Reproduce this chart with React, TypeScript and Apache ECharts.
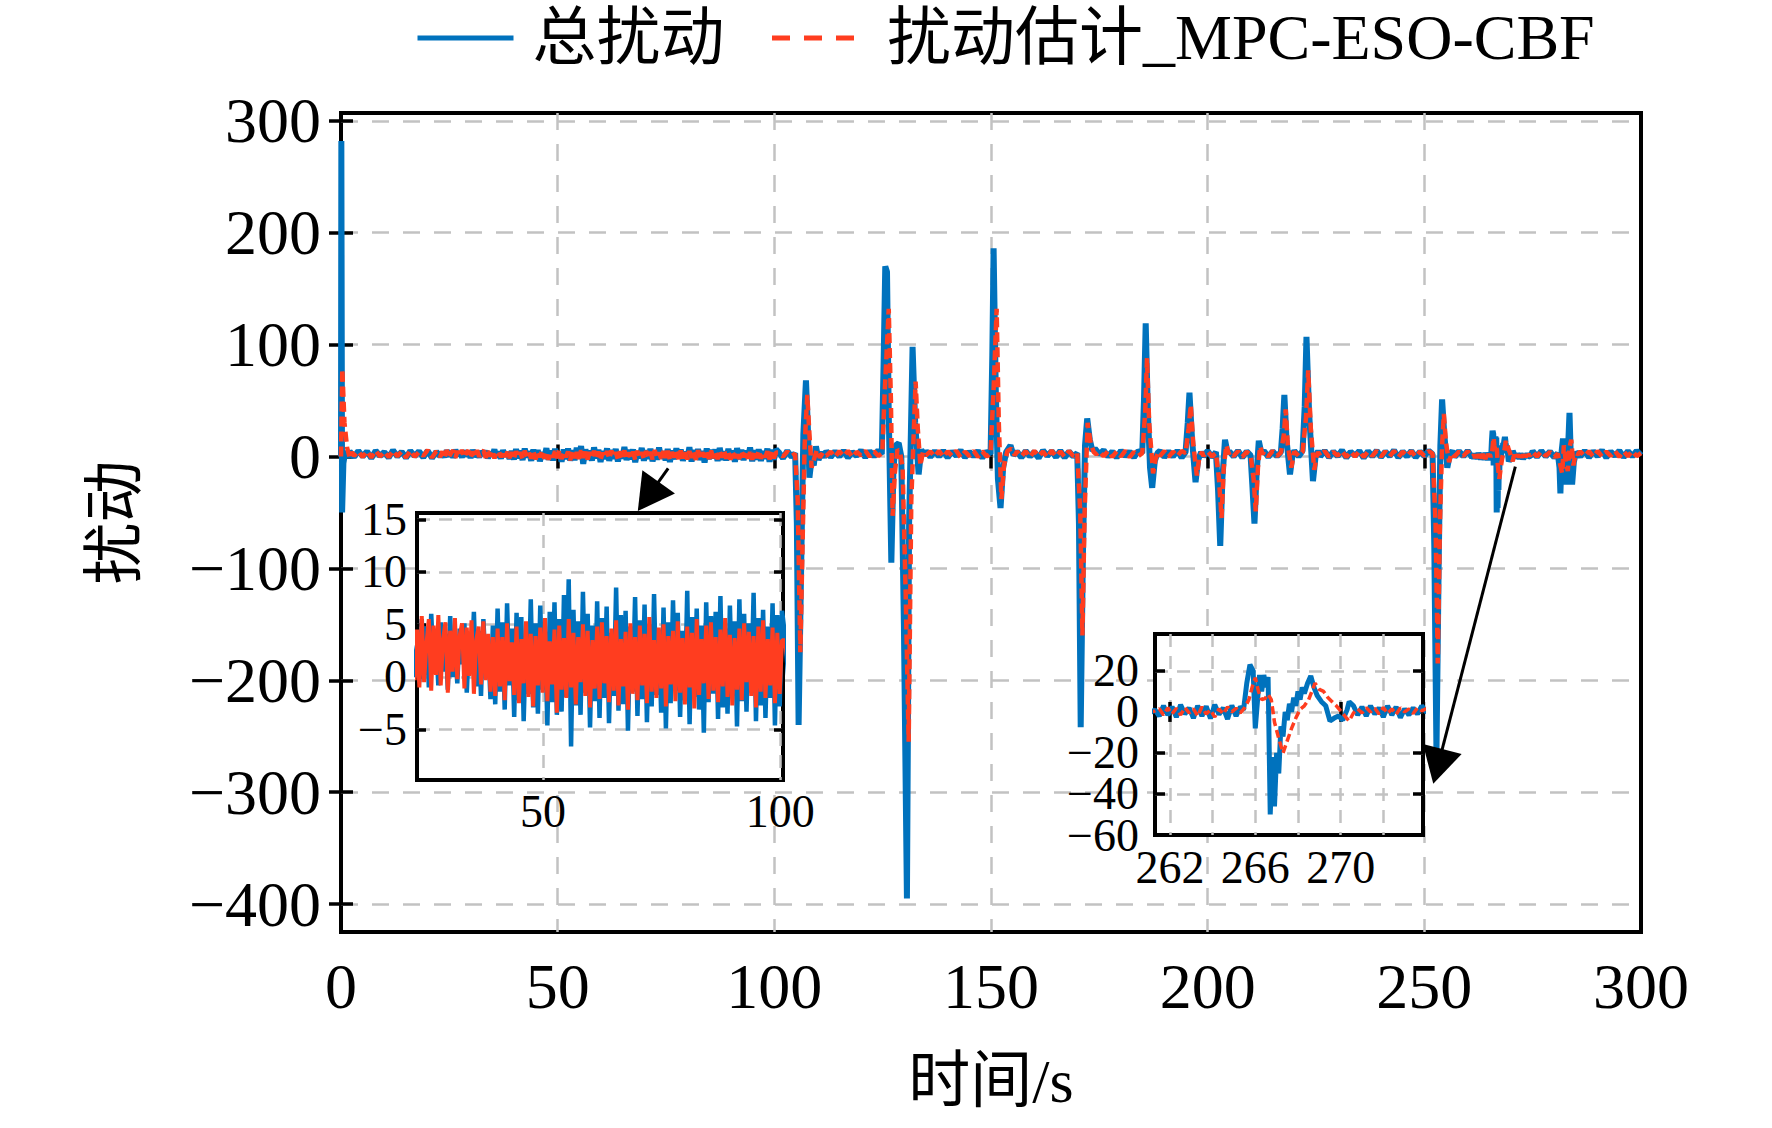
import React, { useEffect, useRef } from 'react';
import * as echarts from 'echarts';

const FONT = "'Liberation Serif', 'Times New Roman', 'Noto Sans CJK SC', serif";
const BLUE = '#0072BD';
const RED = '#FF3D1F';
const GRID_GREY = '#c2c2c2';

const seriesNames = ['总扰动', '扰动估计_MPC-ESO-CBF'];

// tick labels
const xTicks = [0, 50, 100, 150, 200, 250, 300];
const yTicks = [-400, -300, -200, -100, 0, 100, 200, 300];
const inset1XTicks = [50, 100];
const inset1YTicks = [-5, 0, 5, 10, 15];
const inset2XTicks = [262, 266, 270];
const inset2XGrid = [262, 264, 266, 268, 270, 272];
const inset2YTicks = [-60, -40, -20, 0, 20];

// 23.4 s .. 100.4 s, one sample every 0.5 s (zoomed in the first inset)
const noiseStart = 23.4;
const noiseStep = 0.5;
const noiseTotal = [
  3, -0.5, 5.5, 0.2, 4.8, -1, 6, 1, 3.5, -0.8, 5.2, 0.5, 4.1, -1.2, 5.8, 0, 2.9, -0.6, 4.6, 1.2,
  5.1, -1.5, 3.8, 0.4, 6.2, -0.9, 4.4, -1.8, 5.5, 0.8, 3.2, -2.1, 4.9,
  -2.6, 6.5, -1.4, 5.2, -3.1, 7, -0.8, 4.6, -3.8, 6.1,
  -2.2, 5.7, -4.2, 3.9, -1.6, 7.4, -2.9, 5.1, -3.5, 6.8,
  -1.2, 4.3, -4.6, 6.2, -2.4, 7.1, -3.6, 5.5, -3.3, 7.8,
  -1.9, 9.3, -6.6, 6.4, -2.7, 5.3, -3.6, 8.1, -1.5, 6,
  -4.8, 4.9, -2.3, 7.2, -3.9, 5.6, -2, 6.7, -4.4, 4.2,
  -1.8, 8.5, -3.2, 5.9, -2.6, 6.3, -5.1, 4.8, -1.4, 7.6,
  -3.7, 5.4, -2.1, 6.9, -4.3, 5, -2.8, 7.9, -1.7, 4.5,
  -3.4, 6.6, -4.9, 5.2, -2.5, 7.3, -1.3, 6.1, -3.8, 4.4,
  -2.2, 8.2, -4.5, 5.7, -1.9, 6.5, -3.1, 4.9, -5.3, 7.1,
  -2.4, 5.8, -1.6, 6.2, -4, 7.7, -2.9, 4.6, -3.5, 6.8,
  -1.8, 5.3, -4.7, 7.4, -2.3, 6, -3.3, 5.1, -1.5, 8,
  -4.2, 5.6, -2.7, 6.4, -3.9, 4.8, -2, 7, -4.6, 5.9,
  -2.8, 6.3,
];
const noiseEst = [
  4.5, -1, 5.8, -0.5, 3.2, 5.5, -1.3, 4.9, 0.2, 5.9, -0.8, 3.6, 5.2, -1.5, 4.4, 0.5, 5.6, -0.2, 3.9, 5.1,
  -1.1, 4.7, 0.1, 5.4, -1.6, 3.5, 4.8, -0.7, 5.3, -0.3, 4.1, -1.4, 3.8,
  -1.8, 4.6, -0.9, 3.8, -2.2, 5.1, -0.4, 3.3, -1.7, 4.8,
  -2.5, 3.6, -0.6, 5.3, -1.9, 4.1, -2.8, 3.9, -0.8, 4.7,
  -1.5, 5.6, -2.3, 3.4, -0.7, 4.5, -3.4, 4.9, -1.2, 3.7,
  -2, 5.5, -1, 4.2, -2.6, 3.8, -0.5, 5, -1.8, 4.4,
  -2.9, 3.5, -1.1, 4.8, -2.1, 5.2, -0.6, 3.9, -2.4, 4.6,
  -1.3, 5.4, -2.7, 3.6, -0.9, 4.3, -3.1, 5.1, -1.6, 3.8,
  -2.2, 4.9, -0.8, 4.1, -2.5, 5.7, -1.4, 3.5, -2, 4.7,
  -1.1, 5, -2.8, 3.9, -0.7, 4.4, -2.3, 5.3, -1.5, 3.7,
  -2.6, 4.8, -1, 4.2, -3, 5.5, -1.7, 3.6, -0.6, 4.9,
  -2.1, 5.2, -1.3, 3.8, -2.4, 4.5, -0.9, 5.6, -1.9, 4,
  -2.7, 3.7, -1.2, 4.6, -2.2, 5.1, -0.5, 4.3, -1.8, 3.9,
  -2.9, 4.8, -1.4, 5.4, -2, 3.6, -0.8, 4.7, -2.5, 4.2,
  -1.6, 3.5,
];

// [time s, value]
const totalHead = [
  [0, 0], [0.08, 282], [0.25, -50], [0.55, -6], [1, 5], [1.5, -1], [2, 4.5], [3, -0.5], [4, 5], [5, 0],
  [6, 4.5], [7, -1.5], [8, 5.2], [9, 0.4], [10, 4], [11, -1], [12, 5.5], [13, 0], [14, 4.2], [15, -1.2],
  [16, 5], [17, 0.3], [18, 4.6], [19, -0.8], [20, 5.2], [21, -1.4], [22, 4.4], [22.9, 0],
];
const estHead = [
  [0, 0], [0.3, 78], [0.8, 30], [1.4, 8], [2, -1], [2.5, 4], [3, 0.5], [4, 4.6], [5, -0.5], [6, 4.8],
  [7, -1], [8, 5.3], [9, 0], [10, 4.4], [11, -0.6], [12, 5.1], [13, 0.2], [14, 4.5], [15, -1], [16, 5.4],
  [17, -0.2], [18, 4.1], [19, 0.6], [20, 5.6], [21, -0.9], [22, 4.7], [22.9, -0.3],
];

const totalMid = [
  [101, 4], [102, -1.5], [103, 5], [104, -0.5], [104.8, 3],
  [105.2, -60], [105.6, -240], [106.1, -120], [106.7, 20], [107.3, 68], [107.7, 30], [108.1, -19], [108.6, -2],
  [109.1, -8], [109.6, 9], [110.2, -3], [110.9, 4], [111.5, -1],
  [112, 5], [113, -0.5], [114, 4.5], [115, 0], [116, 5.2], [117, -1], [118, 4], [119, 0.5], [120, 5.5],
  [121, -0.8], [122, 4.8], [123, 0], [124, 5.5], [124.8, 2],
  [125.2, 80], [125.6, 170], [126, 165], [126.4, 40], [127, -95], [127.5, -10], [128, 10], [128.7, 12],
  [129.3, 0], [129.9, -150], [130.6, -395], [131.1, -60], [131.9, 98], [132.5, 30], [133.3, -16], [133.9, 6], [134.6, 1],
  [135, 5], [136, -0.5], [137, 4.8], [138, 0], [139, 5.2], [140, -1], [141, 4.4], [142, 0.6], [143, 5.5],
  [144, -0.8], [145, 4.2], [146, 0.2], [147, 5], [148, -1.2], [149, 4.6], [149.9, 2],
  [150.3, 90], [150.6, 186], [151.1, 60], [151.6, -20], [152.2, -46], [152.8, -10], [153.5, 4], [154.5, 10], [155.2, 1],
  [156, 4.5], [157, -1], [158, 5], [159, 0], [160, 4.2], [161, -1.5], [162, 5.5], [163, 0.4], [164, 4.8],
  [165, -0.6], [166, 5.2], [167, -1], [168, 4.4], [169, 0], [169.9, 3],
  [170.3, -60], [170.7, -242], [171.2, -90], [171.7, 10], [172.2, 34], [172.8, 15], [173.4, 5], [174, 7],
  [175, 2], [176, 5.5], [177, 0], [178, 4.6], [179, -1], [180, 5.2], [181, 0.3], [182, 4.4], [183, -0.8], [184, 5], [184.9, 3],
  [185.3, 50], [185.7, 119], [186.2, 40], [186.7, -10], [187.2, -28], [187.8, -4], [188.4, 3],
  [189, 5], [190, -0.5], [191, 4.5], [192, 0], [193, 5.2], [194, -1], [194.9, 4],
  [195.4, 30], [195.8, 57], [196.4, 15], [197.2, -23], [197.8, -3], [198.5, 4],
  [199, 0], [200, 5], [201, -0.5], [201.9, 4],
  [202.4, -30], [202.9, -80], [203.4, -20], [204, 15], [204.6, 3],
  [205, 4.5], [206, 0], [207, 5.2], [208, -1], [209, 4.6], [209.9, 1],
  [210.3, -25], [210.8, -60], [211.3, -15], [211.8, 14], [212.4, 3],
  [213, 5], [214, -0.5], [215, 4.6], [216, 0.2], [216.9, 4],
  [217.3, 25], [217.7, 55], [218.2, 15], [219, -16], [219.6, 2],
  [220, 5], [221, 0], [221.9, 5],
  [222.4, 45], [222.8, 107], [223.4, 40], [224.3, -22], [224.9, 0],
  [225.5, 5], [226, 0], [227, 5.2], [228, -0.8], [229, 4.5], [230, 0.2], [231, 5.5], [232, -1], [233, 4.2],
  [234, 0.5], [235, 5], [236, -1.2], [237, 4.8], [238, 0], [239, 5.3], [240, -0.6], [241, 4.4], [242, 0.3],
  [243, 5.6], [244, -1], [245, 4.6], [246, 0], [247, 5.1], [248, -0.8], [249, 4.3], [250, 0.4], [251, 5.2], [251.9, 2],
  [252.3, -80], [252.8, -264], [253.3, -100], [253.7, 10], [254.1, 51], [254.6, 20], [255.3, -10], [255.9, 2],
  [256.5, 5], [257, -0.5], [258, 4.8], [259, 0], [260, 5.2], [261, -0.8],
];
const estMid = [
  [101, 3.5], [102, 0], [103, 4.5], [104, 0.5], [104.8, 2.5],
  [105.4, -40], [106, -175], [106.5, -80], [107, 10], [107.6, 55], [108.1, 20], [108.6, -10], [109.2, -2],
  [109.8, 6], [110.5, -1], [111.2, 3.5],
  [112, 0.5], [113, 4.4], [114, -0.5], [115, 4.8], [116, 0.3], [117, 5], [118, -0.6], [119, 4.2], [120, 0.8],
  [121, 5.1], [122, -0.2], [123, 4.6], [124, 0.5], [124.9, 3],
  [125.5, 60], [126.4, 132], [126.9, 50], [127.3, -53], [127.8, -15], [128.4, 6], [129, 4], [129.6, -10],
  [130.3, -120], [131, -255], [131.6, -40], [132.6, 67], [133.1, 25], [133.7, -8], [134.3, 4],
  [135, 1], [136, 4.5], [137, 0], [138, 5], [139, -0.4], [140, 4.6], [141, 0.5], [142, 5.2], [143, -0.8],
  [144, 4.3], [145, 0.4], [146, 5], [147, -0.5], [148, 4.7], [149, 0], [149.9, 3],
  [150.6, 60], [151.3, 132], [151.8, 30], [152.4, -38], [153, -8], [153.8, 5], [154.7, 7], [155.5, 1],
  [156, 4.6], [157, 0], [158, 4.9], [159, -0.6], [160, 5.1], [161, 0.2], [162, 4.4], [163, -0.8], [164, 5.3],
  [165, 0], [166, 4.5], [167, -0.4], [168, 4.9], [169, 0.3], [169.9, 3],
  [170.6, -50], [171.1, -160], [171.6, -50], [172.3, 30], [173, 12], [173.7, 4], [174.3, 2],
  [175, 4.5], [176, 0.2], [177, 5], [178, -0.4], [179, 4.6], [180, 0], [181, 5.2], [182, -0.6], [183, 4.2], [184, 0.4], [184.9, 3],
  [185.6, 40], [186, 88], [186.5, 30], [187.4, -15], [188, -2], [188.6, 4],
  [189, 0.5], [190, 4.8], [191, -0.4], [192, 4.4], [193, 0.2], [194, 5], [194.9, 3],
  [195.6, 25], [196.1, 46], [196.7, 10], [197.5, -17], [198.1, 0], [198.7, 4],
  [199, 0.5], [200, 4.5], [201, 0], [201.9, 3],
  [202.6, -20], [203.2, -55], [203.7, -10], [204.3, 10], [204.9, 2],
  [205, 4], [206, 0.4], [207, 4.8], [208, -0.5], [209, 4.2], [209.9, 1.5],
  [210.6, -20], [211.1, -49], [211.6, -10], [212.1, 9], [212.7, 2],
  [213, 4.5], [214, 0], [215, 5], [216, 0.5], [216.9, 3.5],
  [217.6, 20], [218, 42], [218.5, 10], [219.3, -10], [219.9, 2],
  [220, 4.5], [221, 0.5], [221.9, 4],
  [222.7, 35], [223.2, 77], [223.8, 25], [224.6, -12], [225.2, 1],
  [225.5, 4], [226, 0.5], [227, 4.8], [228, -0.4], [229, 4.2], [230, 0.6], [231, 5], [232, -0.6], [233, 4.5],
  [234, 0], [235, 4.9], [236, -0.5], [237, 4.4], [238, 0.5], [239, 5.1], [240, -0.2], [241, 4.6], [242, 0],
  [243, 5], [244, -0.6], [245, 4.3], [246, 0.4], [247, 4.8], [248, -0.3], [249, 4.5], [250, 0.5], [251, 4.9], [251.9, 2.5],
  [252.6, -60], [253.1, -185], [253.6, -60], [254.1, 10], [254.5, 38], [255, 12], [255.7, -5], [256.3, 3],
  [257, 0], [258, 4.5], [259, 0.3], [260, 4.8], [261, -0.3],
];

// zoomed in the second inset
const zoomTotal = [
  [261.3, 1], [261.5, -2], [261.7, 3], [261.9, -1.5], [262.1, 2.5], [262.3, -2.5], [262.5, 3.5], [262.7, -1],
  [262.9, 2], [263.1, -3], [263.3, 3], [263.5, -2], [263.7, 2.8], [263.9, -3.2], [264.1, 3.5], [264.3, -1.2],
  [264.5, 2], [264.7, -3.5], [264.9, 3.2], [265.1, -2], [265.3, 2.5], [265.45, 1], [265.6, 14], [265.75, 23],
  [265.9, 20], [266.0, -8], [266.1, 5], [266.2, 18], [266.3, 10], [266.4, 18], [266.5, 12], [266.6, 17],
  [266.7, -50], [266.8, -22], [266.9, -46], [267.0, -20], [267.1, -30], [267.2, -7], [267.3, -12], [267.4, 0],
  [267.5, -4], [267.6, 4], [267.7, 0], [267.8, 7], [267.9, 3], [268.0, 10], [268.1, 6], [268.2, 12],
  [268.3, 9], [268.45, 14], [268.6, 17.5], [268.75, 12], [268.9, 8], [269.1, 5], [269.3, 3], [269.5, -4.4],
  [269.7, -3], [269.9, -2], [270.1, -4], [270.3, 1], [270.4, 5], [270.6, 3], [270.8, -1.5], [271, 2.5],
  [271.2, -2], [271.4, 3], [271.6, -1], [271.8, 2], [272, -2.5], [272.2, 3], [272.4, -1.5], [272.6, 2.5],
  [272.8, -2.8], [273, 1.5], [273.2, -1.5], [273.4, 2], [273.6, -1], [273.8, 3], [274, 0],
];
const zoomEst = [
  [261.3, 0.5], [261.5, 1.5], [261.7, -1.5], [261.9, 2], [262.1, -1], [262.3, 1.8], [262.5, -1.5], [262.7, 2.2],
  [262.9, -0.5], [263.1, 1.5], [263.3, -2], [263.5, 2.5], [263.7, -1], [263.9, 1], [264.1, -2.5], [264.3, 1.5],
  [264.5, -1], [264.7, 2.5], [264.9, 0], [265.1, 1.8], [265.3, -0.5], [265.5, 2], [265.7, 6], [265.85, 12],
  [266.0, 16.7], [266.15, 10], [266.3, 6], [266.45, 6.5], [266.6, 8.6], [266.75, 6], [266.9, -5], [267.1, -13],
  [267.3, -20], [267.5, -14], [267.7, -8], [267.9, -3], [268.1, 1.3], [268.3, 3], [268.5, 6], [268.65, 10],
  [268.8, 14], [269.0, 11], [269.2, 10], [269.4, 7], [269.6, 5], [269.8, 3], [270.0, 0.5], [270.2, -2],
  [270.4, -4.4], [270.6, -0.5], [270.8, 1.5], [271, -0.5], [271.2, 2], [271.4, 0], [271.6, 1.8], [271.8, -1],
  [272, 2.2], [272.2, -0.8], [272.4, 1.5], [272.6, -1.2], [272.8, 2], [273, 0], [273.2, 1.5], [273.4, -0.8],
  [273.6, 2], [273.8, 0.5], [274, 1.5],
];

const totalTail = [
  [274.5, 0.5], [275, 4.8], [276, -0.5], [277, 5], [278, 0], [279, 4.5], [280, -1], [280.8, 3],
  [281.2, -10], [281.4, -33], [281.7, 5], [282, 16], [282.4, -5], [282.8, -25], [283.2, 10], [283.5, 39],
  [283.8, 0], [284.1, -25], [284.5, -5], [285, 4],
  [286, 0], [287, 5.2], [288, -0.8], [289, 4.6], [290, 0.3], [291, 5.5], [292, -1], [293, 4.4], [294, 0.5],
  [295, 5.1], [296, -0.6], [297, 4.8], [298, 0], [299, 5.2], [300, 1],
];
const estTail = [
  [274.5, 1], [275, 4.2], [276, 0], [277, 4.6], [278, 0.4], [279, 4.1], [280, -0.5], [280.8, 2.5],
  [281.4, -8], [281.8, -15], [282.2, 10], [282.6, -3], [283.1, -13], [283.5, 8], [283.9, 15], [284.4, -8],
  [284.9, 3], [285.5, 2],
  [286, 4.5], [287, 0.3], [288, 4.7], [289, -0.4], [290, 4.9], [291, 0], [292, 4.4], [293, 0.5], [294, 5],
  [295, -0.3], [296, 4.6], [297, 0.2], [298, 4.8], [299, 0.4], [300, 3],
];

// arrows: [from, to] in data units of the main axes
const arrowLines = [
  [[75.5, -10.7], [70.9, -35.7]],
  [[271, -9], [253.1, -277]],
];

const toPairs = (vals: number[]) =>
  vals.map((v, i) => [Math.round((noiseStart + i * noiseStep) * 100) / 100, v]);

const totalData = [...totalHead, ...toPairs(noiseTotal), ...totalMid, ...zoomTotal, ...totalTail];
const estData = [...estHead, ...toPairs(noiseEst), ...estMid, ...zoomEst, ...estTail];

const minusFmt = (v: number) => (v < 0 ? '\u2212' + Math.abs(v) : String(v));

const App: React.FC = () => {
  const chartRef = useRef<HTMLDivElement>(null);

  useEffect(() => {
    if (!chartRef.current) return;
    const chart = echarts.init(chartRef.current, undefined, { renderer: 'svg' });

    const tickStyle = (len: number, ticks: number[], show = true) => ({
      show,
      inside: true,
      length: len,
      customValues: ticks,
      lineStyle: { color: '#000', width: 3.5 },
    });
    const label = (size: number, values: number[], margin: number) => ({
      customValues: values,
      interval: 0,
      fontSize: size,
      lineHeight: Math.round(size * 0.75),
      fontFamily: FONT,
      color: '#000',
      margin,
      showMinLabel: true,
      showMaxLabel: true,
      hideOverlap: false,
      formatter: minusFmt,
    });
    const split = (dash: number[]) => ({
      show: true,
      lineStyle: { color: GRID_GREY, width: 2.5, type: dash },
    });
    const mainDash = [17, 14];
    const insetDash = [13, 9];
    const inset2Y = { type: 'value', gridIndex: 2, min: -60, max: 38, z: 11, axisLine: { show: false } };

    const option = {
      animation: false,
      backgroundColor: '#fff',
      legend: {
        left: 415,
        top: 6,
        padding: 0,
        itemWidth: 96,
        itemHeight: 20,
        itemGap: 45,
        itemStyle: { opacity: 0 },
        textStyle: { fontSize: 64, fontFamily: FONT, color: '#000', padding: [0, 0, 0, 14] },
        data: [
          { name: seriesNames[0], itemStyle: { opacity: 0 }, lineStyle: { width: 5, color: BLUE, type: 'solid' } },
          { name: seriesNames[1], itemStyle: { opacity: 0 }, lineStyle: { width: 5, color: RED, type: [18, 14] } },
        ],
      },
      grid: [
        { left: 341, top: 113, width: 1300, height: 819, show: true, borderColor: '#000', borderWidth: 4, z: 0 },
        {
          left: 417, top: 513, width: 366, height: 267, show: true, backgroundColor: '#fff',
          borderColor: '#000', borderWidth: 4, z: 10,
        },
        {
          left: 1155, top: 634, width: 268, height: 201, show: true, backgroundColor: '#fff',
          borderColor: '#000', borderWidth: 4, z: 10,
        },
      ],
      xAxis: [
        {
          type: 'value', gridIndex: 0, position: 'bottom', min: 0, max: 300,
          axisLine: { show: false },
          axisTick: tickStyle(12, [50, 100, 150, 200, 250]),
          axisLabel: label(64, xTicks, 30),
          splitLine: split(mainDash),
          name: '时间/s', nameLocation: 'middle', nameGap: 118,
          nameTextStyle: { fontSize: 62, fontFamily: FONT, color: '#000' },
        },
        {
          type: 'value', gridIndex: 0, position: 'top', min: 0, max: 300,
          axisLine: { show: false },
          axisTick: tickStyle(12, [50, 100, 150, 200, 250]),
          axisLabel: { show: false }, splitLine: { show: false },
        },
        {
          type: 'value', gridIndex: 1, position: 'bottom', min: 23.4, max: 100.6, z: 11,
          axisLine: { show: false },
          axisTick: tickStyle(9, inset1XTicks),
          axisLabel: label(46, inset1XTicks, 14),
          splitLine: split(insetDash),
        },
        {
          type: 'value', gridIndex: 1, position: 'top', min: 23.4, max: 100.6, z: 11,
          axisLine: { show: false },
          axisTick: tickStyle(9, inset1XTicks),
          axisLabel: { show: false }, splitLine: { show: false },
        },
        {
          type: 'value', gridIndex: 2, position: 'bottom', min: 261.3, max: 273.86, z: 11,
          axisLine: { show: false },
          axisTick: tickStyle(10, inset2XTicks),
          axisLabel: label(46, inset2XTicks, 15),
          splitLine: { show: false },
        },
        {
          type: 'value', gridIndex: 2, position: 'top', min: 261.3, max: 273.86, z: 11,
          axisLine: { show: false },
          axisTick: tickStyle(10, inset2XTicks),
          axisLabel: { show: false }, splitLine: { show: false },
        },
        {
          type: 'value', gridIndex: 2, position: 'bottom', min: 261.3, max: 273.86, z: 11,
          axisLine: { show: false },
          axisTick: tickStyle(10, inset2XGrid, false),
          axisLabel: { show: false },
          splitLine: split(insetDash),
        },
      ],
      yAxis: [
        {
          type: 'value', gridIndex: 0, position: 'left', min: -425, max: 307,
          axisLine: { show: false },
          axisTick: tickStyle(12, yTicks),
          axisLabel: label(64, yTicks, 20),
          splitLine: split(mainDash),
          name: '扰动', nameLocation: 'middle', nameGap: 195, nameRotate: 90,
          nameTextStyle: { fontSize: 62, fontFamily: FONT, color: '#000' },
        },
        {
          type: 'value', gridIndex: 0, position: 'right', min: -425, max: 307,
          axisLine: { show: false },
          axisTick: tickStyle(12, yTicks),
          axisLabel: { show: false }, splitLine: { show: false },
        },
        {
          type: 'value', gridIndex: 1, position: 'left', min: -9.8, max: 15.6, z: 11,
          axisLine: { show: false },
          axisTick: tickStyle(9, inset1YTicks),
          axisLabel: label(46, inset1YTicks, 10),
          splitLine: split(insetDash),
        },
        {
          type: 'value', gridIndex: 1, position: 'right', min: -9.8, max: 15.6, z: 11,
          axisLine: { show: false },
          axisTick: tickStyle(9, inset1YTicks),
          axisLabel: { show: false }, splitLine: { show: false },
        },
        {
          ...inset2Y, position: 'left',
          axisTick: tickStyle(10, [-40, -20, 0, 20]),
          axisLabel: label(46, inset2YTicks.filter((_, i) => i % 2 === 0), 16),
          splitLine: split(insetDash),
        },
        {
          ...inset2Y, position: 'right',
          axisTick: tickStyle(10, [-40, -20, 0, 20]),
          axisLabel: { show: false }, splitLine: { show: false },
        },
        {
          // the labels that ECharts would thin out on the first axis
          ...inset2Y, position: 'left',
          axisTick: tickStyle(10, [-40, 0], false),
          axisLabel: label(46, inset2YTicks.filter((_, i) => i % 2 === 1), 16),
          splitLine: { show: false },
        },
      ],
      series: [
        {
          name: seriesNames[0], type: 'line', xAxisIndex: 0, yAxisIndex: 0, data: totalData,
          symbol: 'none', z: 2, lineStyle: { color: BLUE, width: 6 }, itemStyle: { color: BLUE },
        },
        {
          name: seriesNames[1], type: 'line', xAxisIndex: 0, yAxisIndex: 0, data: estData,
          symbol: 'none', z: 3, lineStyle: { color: RED, width: 4.5, type: [10, 5] }, itemStyle: { color: RED },
        },
        {
          name: seriesNames[0], type: 'line', xAxisIndex: 2, yAxisIndex: 2, data: totalData,
          symbol: 'none', z: 12, lineStyle: { color: BLUE, width: 4.5 }, itemStyle: { color: BLUE },
        },
        {
          name: seriesNames[1], type: 'line', xAxisIndex: 2, yAxisIndex: 2, data: estData,
          symbol: 'none', z: 13, lineStyle: { color: RED, width: 4, type: 'solid' }, itemStyle: { color: RED },
        },
        {
          name: seriesNames[0], type: 'line', xAxisIndex: 4, yAxisIndex: 4, data: totalData,
          symbol: 'none', z: 12, lineStyle: { color: BLUE, width: 5 }, itemStyle: { color: BLUE },
        },
        {
          name: seriesNames[1], type: 'line', xAxisIndex: 4, yAxisIndex: 4, data: estData,
          symbol: 'none', z: 13, lineStyle: { color: RED, width: 3.5, type: [8, 4] }, itemStyle: { color: RED },
        },
        {
          type: 'line', xAxisIndex: 0, yAxisIndex: 0, data: [], z: 20,
          markLine: {
            silent: true,
            symbol: ['none', 'triangle'],
            symbolSize: [40, 36],
            label: { show: false },
            lineStyle: { color: '#000', width: 3, type: 'solid' },
            data: arrowLines.map(([a, b]) => [{ coord: a }, { coord: b }]),
          },
        },
      ],
    };

    chart.setOption(option as any);
    return () => chart.dispose();
  }, []);

  return <div ref={chartRef} style={{ position: 'fixed', left: 0, top: 0, width: 1772, height: 1128 }} />;
};

export default App;
